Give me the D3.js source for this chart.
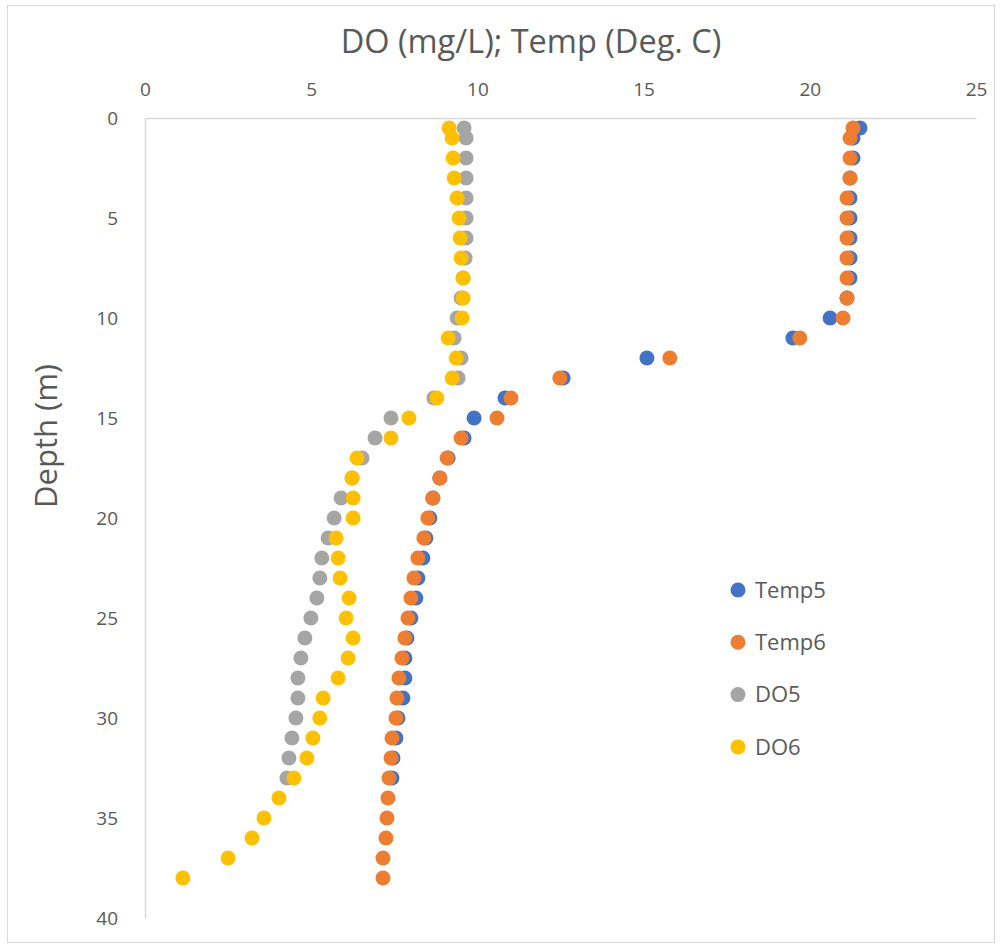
<!DOCTYPE html>
<html>
<head>
<meta charset="utf-8">
<script src="https://cdn.jsdelivr.net/npm/d3@7"></script>
<style>
  html, body { margin: 0; padding: 0; background: #fff; }
  svg { display: block; font-family: "Open Sans", "DejaVu Sans", sans-serif; }
</style>
</head>
<body>
<svg id="chart" width="1002" height="948"></svg>
<script>
// ---- Data ----
const depthsFull = [0.5,1,2,3,4,5,6,7,8,9,10,11,12,13,14,15,16,17,18,19,20,21,22,23,24,25,26,27,28,29,30,31,32,33,34,35,36,37,38];
const depths33 = depthsFull.slice(0, 34);

const temp5 = [21.51,21.30,21.30,21.21,21.21,21.21,21.21,21.21,21.21,21.12,20.61,19.49,15.10,12.58,10.83,9.90,9.60,9.12,8.87,8.66,8.57,8.45,8.36,8.21,8.15,8.00,7.88,7.82,7.82,7.76,7.61,7.55,7.46,7.43];
const temp6 = [21.30,21.21,21.21,21.21,21.12,21.12,21.12,21.12,21.12,21.12,21.00,19.70,15.79,12.48,11.01,10.59,9.51,9.09,8.87,8.66,8.51,8.39,8.21,8.09,8.00,7.91,7.82,7.73,7.64,7.58,7.55,7.43,7.40,7.34,7.31,7.28,7.25,7.16,7.16];
const do5 = [9.60,9.66,9.66,9.66,9.66,9.66,9.66,9.63,9.57,9.51,9.39,9.30,9.51,9.42,8.69,7.40,6.92,6.53,6.23,5.90,5.69,5.51,5.32,5.26,5.17,4.99,4.81,4.69,4.60,4.60,4.54,4.42,4.33,4.27];
const do6 = [9.15,9.24,9.27,9.30,9.39,9.45,9.48,9.51,9.57,9.57,9.54,9.12,9.36,9.24,8.78,7.94,7.40,6.38,6.23,6.26,6.26,5.75,5.81,5.87,6.14,6.05,6.26,6.11,5.81,5.36,5.26,5.05,4.87,4.48,4.03,3.58,3.22,2.50,1.14];

const seriesNames = ["Temp5", "Temp6", "DO5", "DO6"];
const seriesColors = ["#4472C4", "#ED7D31", "#A5A5A5", "#FFC000"];
const xTicks = [0, 5, 10, 15, 20, 25];
const yTicks = [0, 5, 10, 15, 20, 25, 30, 35, 40];
const titleText = "DO (mg/L); Temp (Deg. C)";
const yTitleText = "Depth (m)";

const seriesData = [
  depths33.map((d, i) => ({depth: d, value: temp5[i]})),
  depthsFull.map((d, i) => ({depth: d, value: temp6[i]})),
  depths33.map((d, i) => ({depth: d, value: do5[i]})),
  depthsFull.map((d, i) => ({depth: d, value: do6[i]}))
];

// ---- Layout ----
const svg = d3.select("#chart");
const plotLeft = 145, plotRight = 976, plotTop = 118, plotBottom = 918;
const x = d3.scaleLinear().domain([0, 25]).range([plotLeft, plotRight]);
const y = d3.scaleLinear().domain([0, 40]).range([plotTop, plotBottom]);
const textColor = "#595959";

// Chart border
svg.append("rect")
  .attr("x", 7.5).attr("y", 5.5).attr("width", 987).attr("height", 937)
  .attr("fill", "#fff").attr("stroke", "#d9d9d9").attr("stroke-width", 1);

// X axis (top)
const xAxis = d3.axisTop(x).tickValues(xTicks).tickSize(0).tickPadding(22).tickFormat(d3.format("d"));
const gx = svg.append("g").attr("transform", `translate(0,${plotTop})`).call(xAxis);
gx.select(".domain").attr("stroke", "#d9d9d9").attr("stroke-width", 1.5);
gx.selectAll("text").attr("fill", textColor).attr("font-size", 19).attr("font-family", "'Open Sans', sans-serif");

// Y axis (left)
const yAxis = d3.axisLeft(y).tickValues(yTicks).tickSize(0).tickPadding(27).tickFormat(d3.format("d"));
const gy = svg.append("g").attr("transform", `translate(${plotLeft},0)`).call(yAxis);
gy.select(".domain").attr("stroke", "#d9d9d9").attr("stroke-width", 1.5);
gy.selectAll("text").attr("fill", textColor).attr("font-size", 19).attr("font-family", "'Open Sans', sans-serif");

// Titles
svg.append("text")
  .attr("x", 531).attr("y", 53).attr("text-anchor", "middle")
  .attr("fill", textColor).attr("font-size", 32.5)
  .attr("font-family", "'Open Sans', sans-serif")
  .text(titleText);

svg.append("text")
  .attr("transform", "translate(57,436) rotate(-90)")
  .attr("text-anchor", "middle")
  .attr("fill", textColor).attr("font-size", 31)
  .attr("font-family", "'Open Sans', sans-serif")
  .text(yTitleText);

// Points
seriesData.forEach((data, si) => {
  svg.append("g").selectAll("circle").data(data).join("circle")
    .attr("cx", d => x(d.value))
    .attr("cy", d => y(d.depth))
    .attr("r", 7.5)
    .attr("fill", seriesColors[si]);
});

// Legend
const legend = svg.append("g").attr("transform", "translate(738,590)");
seriesNames.forEach((name, i) => {
  const g = legend.append("g").attr("transform", `translate(0,${i * 52.3})`);
  g.append("circle").attr("cx", 0).attr("cy", 0).attr("r", 7.5).attr("fill", seriesColors[i]);
  g.append("text").attr("x", 17).attr("y", 0).attr("dy", "0.35em")
    .attr("fill", textColor).attr("font-size", 22)
    .attr("font-family", "'Open Sans', sans-serif")
    .text(name);
});
</script>
</body>
</html>
